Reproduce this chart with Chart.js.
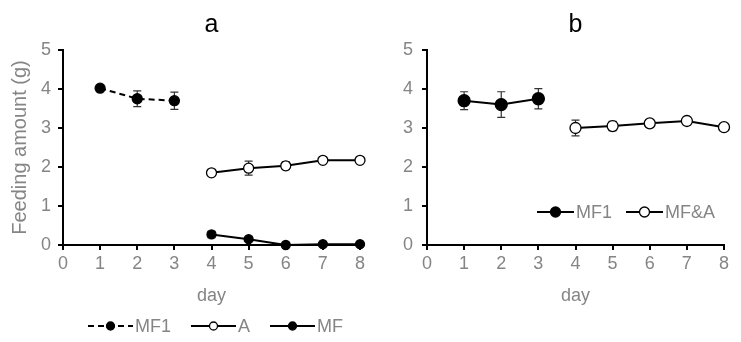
<!DOCTYPE html>
<html>
<head>
<meta charset="utf-8">
<script src="https://cdn.jsdelivr.net/npm/chart.js@4"></script>
<style>
  body { margin: 0; background: #fff; }
  #chartA { position: absolute; left: 0; top: 0; }
  #chartB { position: absolute; left: 380px; top: 0; }
</style>
</head>
<body>
<canvas id="chartA" width="380" height="342"></canvas>
<canvas id="chartB" width="361" height="342"></canvas>
<script>
// panel a
var daysMF1 = [1, 2, 3];
var a_MF1 = [4.02, 3.75, 3.70];
var a_MF1_err = [0.05, 0.2, 0.22];
var daysLater = [4, 5, 6, 7, 8];
var a_A = [1.85, 1.97, 2.03, 2.17, 2.17];
var a_A_err = [0.05, 0.18, 0.1, 0.05, 0.04];
var a_MF = [0.27, 0.15, 0.0, 0.02, 0.02];
var a_MF_err = [0.08, 0.05, 0.02, 0.02, 0.02];

// panel b
var b_MF1 = [3.70, 3.60, 3.75];
var b_MF1_err = [0.23, 0.33, 0.26];
var b_MFA = [3.00, 3.05, 3.12, 3.18, 3.02];
var b_MFA_err = [0.2, 0.12, 0.06, 0.1, 0.08];

var xTicks = [0, 1, 2, 3, 4, 5, 6, 7, 8];
var yTicks = [0, 1, 2, 3, 4, 5];

var gray = '#858585';
var fontName = "'Liberation Sans', Arial, sans-serif";

function pts(xs, ys) {
  return xs.map(function(x, i) { return {x: x, y: ys[i]}; });
}

// error bars drawn behind the points
var errorBars = {
  id: 'errorBars',
  beforeDatasetsDraw: function(chart) {
    var ctx = chart.ctx;
    var xs = chart.scales.x, ys = chart.scales.y;
    ctx.save();
    ctx.strokeStyle = '#333';
    ctx.lineWidth = 1.2;
    chart.data.datasets.forEach(function(ds) {
      if (!ds.errors) return;
      ds.data.forEach(function(p, i) {
        var e = ds.errors[i];
        if (!e) return;
        var px = xs.getPixelForValue(p.x);
        var top = ys.getPixelForValue(p.y + e);
        var bot = ys.getPixelForValue(p.y - e);
        ctx.beginPath();
        ctx.moveTo(px, top); ctx.lineTo(px, bot);
        ctx.moveTo(px - 4, top); ctx.lineTo(px + 4, top);
        ctx.moveTo(px - 4, bot); ctx.lineTo(px + 4, bot);
        ctx.stroke();
      });
    });
    ctx.restore();
  }
};

// legend like the original figure: line + marker + text
var lineLegend = {
  id: 'lineLegend',
  afterDraw: function(chart, args, opts) {
    var ctx = chart.ctx;
    var x = opts.x;
    ctx.save();
    ctx.font = opts.size + 'px ' + fontName;
    ctx.textBaseline = 'middle';
    chart.data.datasets.forEach(function(ds) {
      ctx.strokeStyle = '#000';
      ctx.lineWidth = 2;
      ctx.setLineDash(ds.borderDash || []);
      ctx.beginPath();
      ctx.moveTo(x, opts.y);
      ctx.lineTo(x + opts.lineLen, opts.y);
      ctx.stroke();
      ctx.setLineDash([]);
      ctx.beginPath();
      ctx.arc(x + opts.lineLen / 2, opts.y, opts.r, 0, Math.PI * 2);
      ctx.fillStyle = ds.pointBackgroundColor;
      ctx.fill();
      ctx.lineWidth = 1.3;
      ctx.stroke();
      ctx.fillStyle = gray;
      ctx.fillText(ds.label, x + opts.lineLen + 2, opts.y + 1);
      x += opts.lineLen + 2 + ctx.measureText(ds.label).width + opts.gap;
    });
    ctx.restore();
  }
};

function makeOptions(title, yWidth, showYTitle, legendOpts, rightPad, tickPad) {
  return {
    responsive: false,
    animation: false,
    layout: { padding: { left: 0, right: rightPad, top: 0, bottom: 0 } },
    plugins: {
      legend: { display: false },
      tooltip: { enabled: false },
      title: {
        display: true,
        fullSize: false,
        text: title,
        color: '#000',
        font: { family: fontName, size: 25, weight: 'normal' },
        padding: { top: 10, bottom: 10 }
      },
      lineLegend: legendOpts
    },
    scales: {
      x: {
        type: 'linear',
        min: 0, max: 8,
        afterBuildTicks: function(s) { s.ticks = xTicks.map(function(v) { return {value: v}; }); },
        afterFit: function(s) { s.height = 97; },
        border: { display: true, color: '#000', width: 2 },
        grid: { drawOnChartArea: false, drawTicks: true, tickLength: 5, color: '#000', lineWidth: 2 },
        ticks: { color: gray, font: { family: fontName, size: 18 }, padding: 3 },
        title: {
          display: true, text: 'day', color: gray,
          font: { family: fontName, size: 18 },
          padding: { top: 0, bottom: 35 }
        }
      },
      y: {
        min: 0, max: 5,
        afterBuildTicks: function(s) { s.ticks = yTicks.map(function(v) { return {value: v}; }); },
        afterFit: function(s) { s.width = yWidth; },
        border: { display: true, color: '#000', width: 2 },
        grid: { drawOnChartArea: false, drawTicks: true, tickLength: 5, color: '#000', lineWidth: 2 },
        ticks: { color: gray, font: { family: fontName, size: 18 }, padding: tickPad },
        title: {
          display: showYTitle, text: 'Feeding amount (g)', color: gray,
          font: { family: fontName, size: 20 },
          padding: { top: 8, bottom: 0 }
        }
      }
    }
  };
}

function series(label, data, errs, filled, dash, r) {
  return {
    label: label,
    data: data,
    errors: errs,
    borderColor: '#000',
    borderWidth: 2,
    borderDash: dash || [],
    pointRadius: r,
    pointBorderWidth: 1.3,
    pointBorderColor: '#000',
    pointBackgroundColor: filled ? '#000' : '#fff',
    fill: false,
    tension: 0,
    clip: false
  };
}

new Chart(document.getElementById('chartA'), {
  type: 'line',
  data: {
    datasets: [
      series('MF1', pts(daysMF1, a_MF1), a_MF1_err, true, [6, 4], 5),
      series('A', pts(daysLater, a_A), a_A_err, false, null, 5),
      series('MF', pts(daysLater, a_MF), a_MF_err, true, null, 4.5)
    ]
  },
  options: makeOptions('a', 63, true, { x: 88, y: 326, lineLen: 45, gap: 20, r: 4, size: 18 }, 20, 7),
  plugins: [errorBars, lineLegend]
});

new Chart(document.getElementById('chartB'), {
  type: 'line',
  data: {
    datasets: [
      series('MF1', pts(daysMF1, b_MF1), b_MF1_err, true, null, 6),
      series('MF&A', pts(daysLater, b_MFA), b_MFA_err, false, null, 5.5)
    ]
  },
  options: makeOptions('b', 47, false, { x: 157, y: 212, lineLen: 37, gap: 14, r: 5, size: 18 }, 17, 9),
  plugins: [errorBars, lineLegend]
});
</script>
</body>
</html>
